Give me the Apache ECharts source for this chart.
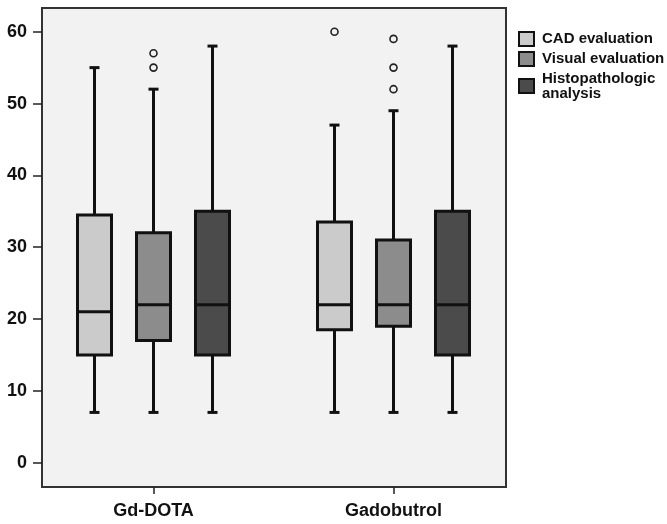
<!DOCTYPE html>
<html>
<head>
<meta charset="utf-8">
<script src="https://cdn.jsdelivr.net/npm/echarts@6/dist/echarts.min.js"></script>
<style>
html,body{margin:0;padding:0;background:#fff;}
#chart{width:667px;height:524px;}
</style>
</head>
<body>
<div id="chart"></div>
<script>
// ---- data ----
const categories = ['Gd-DOTA', 'Gadobutrol'];
const seriesNames = ['CAD evaluation', 'Visual evaluation', 'Histopathologic analysis'];
const seriesColors = ['#cbcbcb', '#8c8c8c', '#4b4b4b'];
// [min, Q1, median, Q3, max] per category
const cadBox = [[7, 15, 21, 34.5, 55], [7, 18.5, 22, 33.5, 47]];
const visualBox = [[7, 17, 22, 32, 52], [7, 19, 22, 31, 49]];
const histoBox = [[7, 15, 22, 35, 58], [7, 15, 22, 35, 58]];
const cadOutliers = [[], [60]];
const visualOutliers = [[55, 57], [52, 55, 59]];
const histoOutliers = [[], []];
const yTicks = [0, 10, 20, 30, 40, 50, 60];

const boxes = [cadBox, visualBox, histoBox];
const outliers = [cadOutliers, visualOutliers, histoOutliers];
const offsets = [-59, 0, 59];

const chart = echarts.init(document.getElementById('chart'), null, {renderer: 'canvas'});

function makeRender(si) {
  return function (params, api) {
    const xi = api.value(0);
    const cx = api.coord([xi, 0])[0] + offsets[si];
    const y = v => api.coord([xi, v])[1];
    const vmin = api.value(1), q1 = api.value(2), med = api.value(3), q3 = api.value(4), vmax = api.value(5);
    const bw = 34, cap = 10;
    const ln = {stroke: '#111', lineWidth: 3};
    const children = [
      {type: 'line', shape: {x1: cx, y1: y(q3), x2: cx, y2: y(vmax)}, style: ln},
      {type: 'line', shape: {x1: cx, y1: y(q1), x2: cx, y2: y(vmin)}, style: ln},
      {type: 'line', shape: {x1: cx - cap / 2, y1: y(vmax), x2: cx + cap / 2, y2: y(vmax)}, style: ln},
      {type: 'line', shape: {x1: cx - cap / 2, y1: y(vmin), x2: cx + cap / 2, y2: y(vmin)}, style: ln},
      {type: 'rect', shape: {x: cx - bw / 2, y: y(q3), width: bw, height: y(q1) - y(q3)},
        style: {fill: seriesColors[si], stroke: '#111', lineWidth: 3}},
      {type: 'line', shape: {x1: cx - bw / 2, y1: y(med), x2: cx + bw / 2, y2: y(med)}, style: ln}
    ];
    outliers[si][params.dataIndex].forEach(v => {
      children.push({type: 'circle', shape: {cx: cx, cy: y(v), r: 3.5},
        style: {fill: '#f2f2f2', stroke: '#222', lineWidth: 1.6}});
    });
    return {type: 'group', children: children};
  };
}

const series = seriesNames.map((name, si) => ({
  type: 'custom',
  name: name,
  xAxisIndex: 1,
  yAxisIndex: 1,
  itemStyle: {color: seriesColors[si]},
  encode: {x: 0, y: [1, 2, 3, 4, 5]},
  data: boxes[si].map((b, i) => [i].concat(b)),
  renderItem: makeRender(si)
}));

const fontFam = '"Liberation Sans", Arial, sans-serif';

chart.setOption({
  animation: false,
  backgroundColor: '#ffffff',
  grid: [
    {left: 42, top: 8, width: 464, height: 479, show: true, backgroundColor: '#f2f2f2',
      borderColor: '#333333', borderWidth: 2},
    {left: 33.5, top: 31.7, width: 480, height: 431, show: false},
    {left: 33.5, top: 8, width: 480, height: 479, show: false}
  ],
  xAxis: [
    {gridIndex: 0, type: 'category', data: categories, show: false},
    {gridIndex: 1, type: 'category', data: categories, show: false},
    {gridIndex: 2, type: 'category', data: categories,
      axisLine: {show: false},
      axisTick: {show: true, alignWithLabel: true, length: 7, lineStyle: {color: '#222', width: 1.5}},
      axisLabel: {margin: 15, fontSize: 18, fontWeight: 'bold', color: '#111', fontFamily: fontFam},
      splitLine: {show: false}}
  ],
  yAxis: [
    {gridIndex: 0, type: 'value', min: 0, max: 60, show: false},
    {gridIndex: 1, type: 'value', min: 0, max: 60, interval: 10, offset: -8.5,
      axisLine: {show: false},
      axisTick: {show: true, length: 9, lineStyle: {color: '#222', width: 1.5}},
      axisLabel: {margin: 15, fontSize: 18, fontWeight: 'bold', color: '#111', fontFamily: fontFam,
        formatter: v => yTicks.indexOf(v) >= 0 ? String(v) : ''},
      splitLine: {show: false}},
    {gridIndex: 2, type: 'value', min: 0, max: 60, show: false}
  ],
  legend: {
    orient: 'vertical',
    left: 518,
    top: 31,
    padding: 0,
    itemGap: 4,
    itemWidth: 15,
    itemHeight: 14,
    icon: 'rect',
    selectedMode: false,
    formatter: n => n === 'Histopathologic analysis' ? 'Histopathologic\nanalysis' : n,
    textStyle: {fontSize: 15, fontWeight: 'bold', color: '#111', fontFamily: fontFam, lineHeight: 15,
      padding: [0, 0, 0, 3]},
    data: seriesNames.map((n, i) => ({name: n, itemStyle: {color: seriesColors[i], borderColor: '#111', borderWidth: 2}}))
  },
  series: series
});
</script>
</body>
</html>
